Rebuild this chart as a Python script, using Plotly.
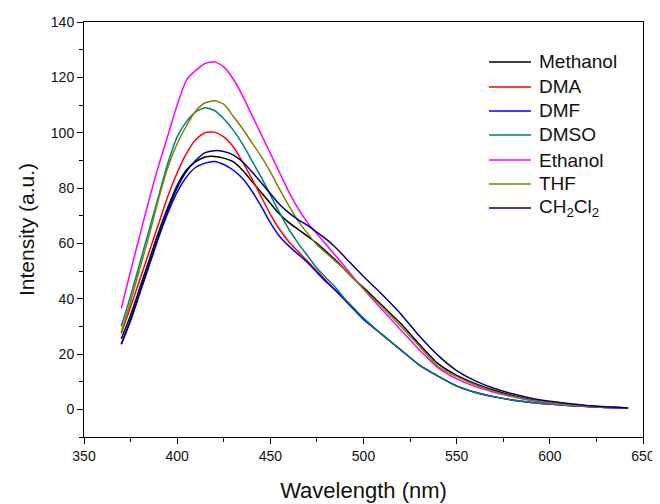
import plotly.graph_objects as go

wavelength = [370, 375, 380, 385, 390, 395, 400, 405, 410, 415, 420, 425, 430, 435, 440,
              445, 450, 455, 460, 465, 470, 475, 480, 485, 490, 495, 500, 510, 520, 530,
              540, 550, 560, 570, 580, 590, 600, 610, 620, 630, 642]

methanol = [25.5, 34, 44, 54, 64, 73, 81, 86.5, 89.5, 91.2, 91.4, 90.8, 89.5, 86.5, 82.5,
            78.5, 74.5, 70.5, 67.5, 65, 62.5, 60, 57, 54, 50.5, 47, 44, 37.5, 31, 23.5,
            16.5, 12.3, 9.3, 6.9, 5.0, 3.5, 2.5, 1.7, 1.2, 0.8, 0.5]
dma = [27.5, 37, 47, 57, 67, 77, 85.5, 92.5, 97.5, 100, 100.2, 98.5, 95, 89.5, 83.5,
       77, 70.5, 65, 60.5, 57, 53.5, 50, 46.5, 43, 39.5, 36, 32.8, 27, 21.5, 16,
       12, 8.5, 6.2, 4.6, 3.4, 2.5, 1.9, 1.4, 1.0, 0.7, 0.5]
dmf = [23.5, 32, 42, 52, 62, 71, 78.5, 84, 87.5, 89, 89.6, 88.5, 86.5, 83.5, 79,
       73.5, 67.5, 62.5, 59, 56, 53, 49.5, 46, 43, 39.5, 36, 32.5, 27, 21.5, 16,
       12, 8.4, 6.1, 4.5, 3.3, 2.5, 1.9, 1.4, 1.0, 0.7, 0.5]
dmso = [30, 41, 53, 65, 77, 89, 98.5, 104, 107.5, 109, 108, 105, 101, 96, 90,
        84, 77.5, 71, 65, 60, 55.5, 51, 47.5, 44, 40, 36.5, 33, 27, 21.5, 16,
        12, 8.5, 6.2, 4.6, 3.4, 2.5, 1.9, 1.4, 1.0, 0.7, 0.5]
ethanol = [36.5, 50, 63, 76, 88, 99, 110, 119, 122.5, 125, 125.6, 123.8, 119.5, 113.5, 106.5,
           99.5, 92.5, 85.5, 78.5, 72.5, 67.5, 63.5, 59.5, 55.5, 51.5, 47.5, 43.5, 36, 28.7, 21.5,
           15, 11, 8.2, 6.2, 4.5, 3.2, 2.3, 1.6, 1.1, 0.8, 0.5]
thf = [28, 39, 51, 63, 76, 87.5, 96, 102.5, 107.8, 110.8, 111.5, 110.3, 106, 101.5, 96.5,
       91.5, 85.8, 79.5, 73.5, 68, 63.5, 59.5, 56.5, 53.5, 50.5, 47, 43.5, 37, 30, 22.8,
       15.5, 11.8, 8.8, 6.5, 4.7, 3.3, 2.4, 1.7, 1.2, 0.8, 0.5]
ch2cl2 = [23.5, 32.5, 42.5, 52.5, 62.5, 72, 80, 86, 90, 92.8, 93.5, 93.2, 92, 89.5, 86,
          82, 78, 74, 71, 68.5, 66.5, 64, 61.5, 58.5, 55, 51.5, 48, 41.5, 34.5, 26.5,
          19.5, 14, 10.3, 7.6, 5.6, 4.0, 2.9, 2.1, 1.4, 0.9, 0.5]

series_names = ["Methanol", "DMA", "DMF", "DMSO", "Ethanol", "THF", "CH<sub>2</sub>Cl<sub>2</sub>"]
series_values = [methanol, dma, dmf, dmso, ethanol, thf, ch2cl2]
series_colors = ["#000000", "#FF0000", "#0000FF", "#008080", "#FF00FF", "#808000", "#000080"]

x_ticks = [350, 400, 450, 500, 550, 600, 650]
y_ticks = [0, 20, 40, 60, 80, 100, 120, 140]

FONT = "Liberation Sans, Arial, sans-serif"

# the page adds an 8 px body margin, so the figure is laid out in page px minus 8
OFF = 8
W, H = 660 - OFF, 504 - OFF
L, R, T, B = 84 - OFF, 643 - OFF, 22 - OFF, 437 - OFF

fig = go.Figure()
for name, vals, col in zip(series_names, series_values, series_colors):
    fig.add_trace(go.Scatter(x=wavelength, y=vals, mode="lines", name=name,
                             line=dict(color=col, width=1.5, shape="spline", smoothing=0.6),
                             showlegend=False))

def px2paper(px, py):
    # px, py are page pixel positions from the reference
    return (px - OFF - L) / (R - L), (B - (py - OFF)) / (B - T)

row_y = [62, 87, 111, 135, 160, 184, 208]
shapes = []
annotations = []
for name, col, ry in zip(series_names, series_colors, row_y):
    x0, y0 = px2paper(489, ry)
    x1, _ = px2paper(531, ry)
    shapes.append(dict(type="line", xref="paper", yref="paper", x0=x0, x1=x1, y0=y0, y1=y0,
                       line=dict(color=col, width=1.6)))
    tx, _ = px2paper(537, ry)
    annotations.append(dict(xref="paper", yref="paper", x=tx, y=y0, text=name, showarrow=False,
                            xanchor="left", yanchor="middle",
                            font=dict(family=FONT, size=19, color="#111111")))

fig.update_layout(
    width=W, height=H,
    margin=dict(l=L, r=W - R, t=T, b=H - B),
    paper_bgcolor="white", plot_bgcolor="white",
    font=dict(family=FONT, color="#111111"),
    shapes=shapes, annotations=annotations,
)
fig.update_xaxes(range=[350, 650], tickvals=x_ticks, ticktext=[str(v) for v in x_ticks],
                 ticks="outside", ticklen=6, tickwidth=1, tickcolor="black",
                 minor=dict(tickvals=[375, 425, 475, 525, 575, 625], ticks="outside", ticklen=4,
                            tickcolor="black", tickwidth=1, showgrid=False),
                 showline=True, linecolor="black", linewidth=1, mirror=True,
                 showgrid=False, zeroline=False, automargin=False,
                 tickfont=dict(family=FONT, size=14, color="#111111"),
                 title=dict(text="Wavelength (nm)", font=dict(family=FONT, size=22, color="#111111"),
                            standoff=19))
fig.update_yaxes(range=[-10, 140], tickvals=y_ticks, ticktext=[str(v) for v in y_ticks],
                 ticks="outside", ticklen=6, tickwidth=1, tickcolor="black",
                 minor=dict(tickvals=[-10, 10, 30, 50, 70, 90, 110, 130], ticks="outside", ticklen=4,
                            tickcolor="black", tickwidth=1, showgrid=False),
                 showline=True, linecolor="black", linewidth=1, mirror=True,
                 showgrid=False, zeroline=False, automargin=False,
                 tickfont=dict(family=FONT, size=14, color="#111111"),
                 title=dict(text="Intensity (a.u.)", font=dict(family=FONT, size=21, color="#111111"),
                            standoff=10))

fig.write_html("out.html")
